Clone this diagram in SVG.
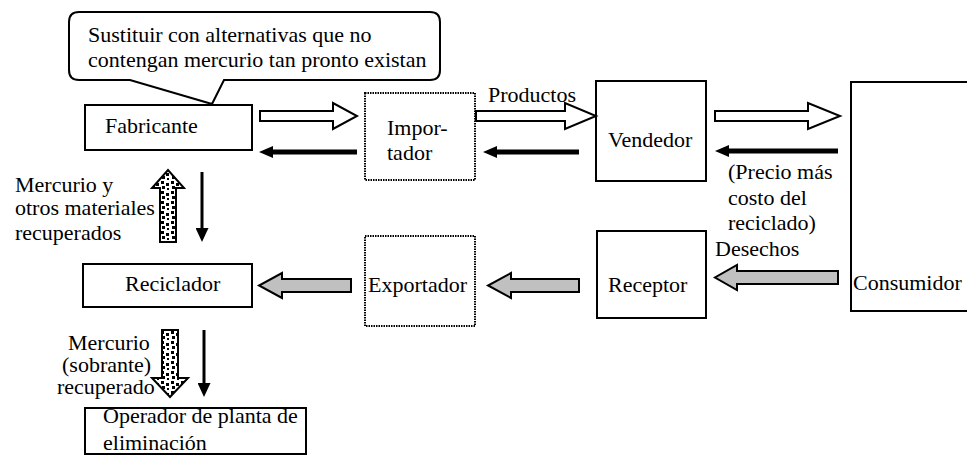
<svg xmlns="http://www.w3.org/2000/svg" width="967" height="455" viewBox="0 0 967 455">
<style>
text{font-family:"Liberation Serif","Times New Roman",serif;font-size:22px;fill:#000}
.box{fill:#fff;stroke:#000;stroke-width:2}
.dot{fill:#fff;stroke:#000;stroke-width:2;stroke-dasharray:1.5 1}
.hollow{fill:#fff;stroke:#000;stroke-width:2;stroke-linejoin:miter}
.gray{fill:#c0c0c0;stroke:#000;stroke-width:2}
.speck{fill:url(#speck);stroke:#000;stroke-width:2}
.thick{stroke:#000;stroke-width:5;fill:none;marker-end:url(#headH)}
.thin{stroke:#000;stroke-width:3;fill:none;marker-end:url(#headV)}
</style>
<defs>
<marker id="headH" markerUnits="userSpaceOnUse" viewBox="0 0 14 12" markerWidth="14" markerHeight="12" refX="0" refY="6" orient="auto"><path d="M0,0 L14,6 L0,12 Z" fill="#000"/></marker>
<marker id="headV" markerUnits="userSpaceOnUse" viewBox="0 0 14 13" markerWidth="14" markerHeight="13" refX="0" refY="6.5" orient="auto"><path d="M0,0 L14,6.5 L0,13 Z" fill="#000"/></marker>
<pattern id="speck" patternUnits="userSpaceOnUse" width="10" height="10">
<rect width="10" height="10" fill="#fff"/>
<rect x="1" y="1" width="3" height="3" fill="#000"/>
<rect x="6" y="3" width="3" height="3" fill="#000"/>
<rect x="2" y="6" width="3" height="3" fill="#000"/>
<rect x="7" y="8" width="2" height="2" fill="#000"/>
</pattern>
</defs>

<g id="callout">
<path class="box" d="M79,12 H430 Q440,12 440,22 V70 Q440,80 430,80 H224 L212,104 L130,80 H79 Q69,80 69,70 V22 Q69,12 79,12 Z"/>
<text x="88" y="42">Sustituir con alternativas que no</text>
<text x="88" y="67">contengan mercurio tan pronto existan</text>
</g>

<g id="fabricante"><rect class="box" x="85" y="105" width="167" height="45"/><text x="105" y="133">Fabricante</text></g>
<g id="importador"><rect class="dot" x="365" y="93" width="110" height="87"/><text x="387" y="135">Impor-</text><text x="387" y="160">tador</text></g>
<g id="vendedor"><rect class="box" x="596" y="81" width="110" height="100"/><text x="608" y="147">Vendedor</text></g>
<g id="consumidor"><rect class="box" x="851" y="82" width="130" height="229"/><text x="853" y="290">Consumidor</text></g>
<g id="receptor"><rect class="box" x="597" y="231" width="109" height="87"/><text x="608" y="292">Receptor</text></g>
<g id="exportador"><rect class="dot" x="365" y="236" width="110" height="90"/><text x="368" y="292">Exportador</text></g>
<g id="reciclador"><rect class="box" x="83" y="264" width="169" height="43"/><text x="125" y="291">Reciclador</text></g>
<g id="operador"><rect class="box" x="85" y="408" width="221" height="46"/><text x="103" y="423">Operador de planta de</text><text x="103" y="450">eliminación</text></g>

<g id="connectors">
<path class="hollow" d="M260,111 H333 V103 L357,116 L333,129 V121 H260 Z"/>
<path class="hollow" d="M476,111 H565 V103 L596,116 L565,129 V121 H476 Z"/>
<path class="hollow" d="M715,111 H808 V103 L840,116 L808,129 V121 H715 Z"/>
<path class="thick" d="M357,152 H273"/>
<path class="thick" d="M579,152 H497"/>
<path class="thick" d="M838,151 H729"/>
<path class="gray" d="M838,271 H737 V265 L715,277.5 L737,290 V284 H838 Z"/>
<path class="gray" d="M579,279 H511 V273 L488,285.5 L511,298 V292 H579 Z"/>
<path class="gray" d="M351,279 H282 V273 L259,285.5 L282,298 V292 H351 Z"/>
<path class="speck" d="M160,242 V188 H152 L168,170 L184,188 H176 V242 Z"/>
<path class="speck" d="M162,330 V378 H152 L170,397 L188,378 H178 V330 Z"/>
<path class="thin" d="M202,172 V228"/>
<path class="thin" d="M204,330 V383"/>
<text x="488" y="102">Productos</text>
<text x="728" y="179">(Precio más</text>
<text x="728" y="205">costo del</text>
<text x="728" y="230">reciclado)</text>
<text x="715" y="256">Desechos</text>
<text x="15" y="192">Mercurio y</text>
<text x="15" y="215">otros materiales</text>
<text x="15" y="240">recuperados</text>
<text x="68" y="350">Mercurio</text>
<text x="62" y="372">(sobrante)</text>
<text x="57" y="394">recuperado</text>
</g>
</svg>
